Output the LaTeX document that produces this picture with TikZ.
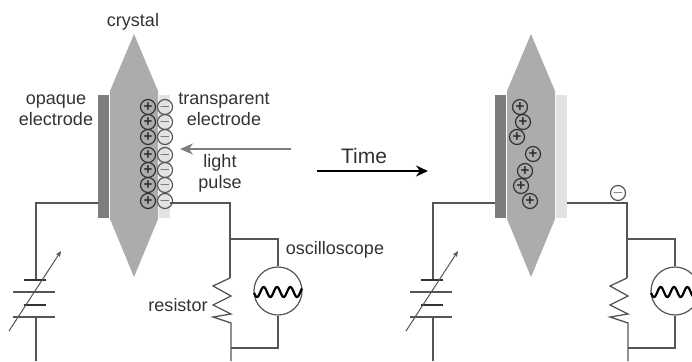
\documentclass[tikz,border=0pt]{standalone}
\usepackage{fontspec}
\setmainfont{Liberation Sans}
\usetikzlibrary{shapes.geometric}
\usetikzlibrary{positioning}
\usetikzlibrary{calc}
\usetikzlibrary{arrows.meta}
\definecolor{wire}{RGB}{85,85,85}
\definecolor{ink}{RGB}{50,50,50}
\definecolor{crystal}{RGB}{172,172,172}
\definecolor{opaque}{RGB}{125,125,125}
\definecolor{clear}{RGB}{226,226,226}
\definecolor{pulse}{RGB}{125,125,125}

\tikzset{
  lbl/.style={font=\fontsize{18}{21}\selectfont, text=ink, inner sep=0pt, align=center},
  wireline/.style={draw=wire, line width=1.3pt},
  charge/.style={circle, draw=ink, line width=1.2pt, minimum size=15pt, inner sep=0pt, text=ink,
                 font=\bfseries\fontsize{15}{15}\selectfont},
  plate/.style={minimum width=11pt, minimum height=123pt, inner sep=0pt},
}

\begin{document}
\begin{tikzpicture}[x=1pt, y=-1pt]

\clip (0,0) rectangle (692,361);

%---------------------------------------
% Shared parts: crystal, circuit, scope
%---------------------------------------
\foreach \xs/\tag in {0/A,397/B}{
\begin{scope}[xshift=\xs pt]

  % Crystal
  \fill[crystal] (134,34) -- (110,91) -- (110,219) -- (134,277) -- (158,219) -- (158,91) -- cycle;

  % Electrodes
  \node[plate, fill=opaque] (opaque\tag) at (103.5,156.5) {};
  \node[plate, fill=clear]  (clear\tag)  at (164.5,156.5) {};

  % Corners of the circuit
  \coordinate (lefttop\tag) at (36,203);
  \coordinate (righttop\tag) at (230,203);
  \coordinate (split\tag) at (230,239);
  \coordinate (probe\tag) at (278,239);
  \coordinate (resin\tag) at (230,278);
  \coordinate (resout\tag) at (231,323);
  \coordinate (join\tag) at (231,348);
  \coordinate (probeout\tag) at (278,348);
  \coordinate (leftend\tag) at (36,361);
  \coordinate (rightend\tag) at (231,361);

  \draw[wireline] (opaque\tag.west |- lefttop\tag) -- (lefttop\tag) -- (36,280);
  \draw[wireline] (clear\tag.east |- righttop\tag) -- (righttop\tag) -- (resin\tag);

  % Battery
  \draw[black!80, line width=2pt] (24,280) -- (46,280);
  \draw[wire, line width=1.2pt] (13,292) -- (55,292);
  \draw[black!80, line width=2pt] (24,305) -- (46,305);
  \draw[wire, line width=1.2pt] (13,317) -- (55,317);
  \draw[wireline] (36,317) -- (leftend\tag);
  \draw[wire, line width=1pt, -{Stealth[length=6pt,width=5pt]}] (9,331) -- (61,251);

  % Resistor
  \draw[wireline, line join=miter] (resin\tag) -- (213,286) -- (231,296) -- (213,305) -- (231,314)
        -- (213,317) -- (resout\tag) -- (rightend\tag);

  % Oscilloscope
  \node[circle, draw=wire, line width=1.2pt, minimum size=48pt, inner sep=0pt] (scope\tag) at (278,291) {};
  \draw[wireline] (split\tag) -- (probe\tag) -- (scope\tag.north);
  \draw[wireline] (scope\tag.south) -- (probeout\tag) -- (join\tag);
  \draw[black, line width=2.2pt, domain=254:302, samples=100]
        plot (\x,{292+5*cos(27*(\x-257))});

\end{scope}
}

%====================================================
% LEFT PANEL: charges at the surfaces
%====================================================
\foreach \y [count=\i] in {107,122,137,155,170,185,201}{
  \node[charge] (plusA\i) at (148,\y) {+};
  \node[charge, draw=wire] (minusA\i) at (165,\y) {$-$};
}

\node[lbl] (crystalname) at (133,22) {crystal};
\node[lbl] (opaquename) at (56,110) {opaque\\electrode};
\node[lbl] (clearname) at (224,109) {transparent\\electrode};
\node[lbl] (pulsename) at (220,173) {light\\pulse};
\node[lbl] (scopename) at (335,250) {oscilloscope};
\node[lbl] (resname) at (178,305) {resistor};

% Light pulse
\coordinate (pulsestart) at (291,149);
\coordinate (pulseend) at (180,149);
\draw[pulse, line width=1.8pt, -{Stealth[length=13pt,width=11pt]}] (pulsestart) -- (pulseend);

%====================================================
% MIDDLE: time arrow
%====================================================
\node[lbl, font=\fontsize{21}{24}\selectfont] (timename) at (364,156) {Time};
\coordinate (timestart) at (317,171);
\coordinate (timeend) at (428,171);
\draw[black, line width=1.8pt, -{Stealth[length=12pt,width=11pt]}] (timestart) -- (timeend);

%====================================================
% RIGHT PANEL: charges in the crystal
%====================================================
\foreach \x/\y [count=\i] in {520/107,523/122,517/137,533/154,525/171,521/186,530/201}{
  \node[charge] (plusB\i) at (\x,\y) {+};
}
\node[charge, draw=wire] (minusB) at (618,193) {$-$};

\end{tikzpicture}
\end{document}
